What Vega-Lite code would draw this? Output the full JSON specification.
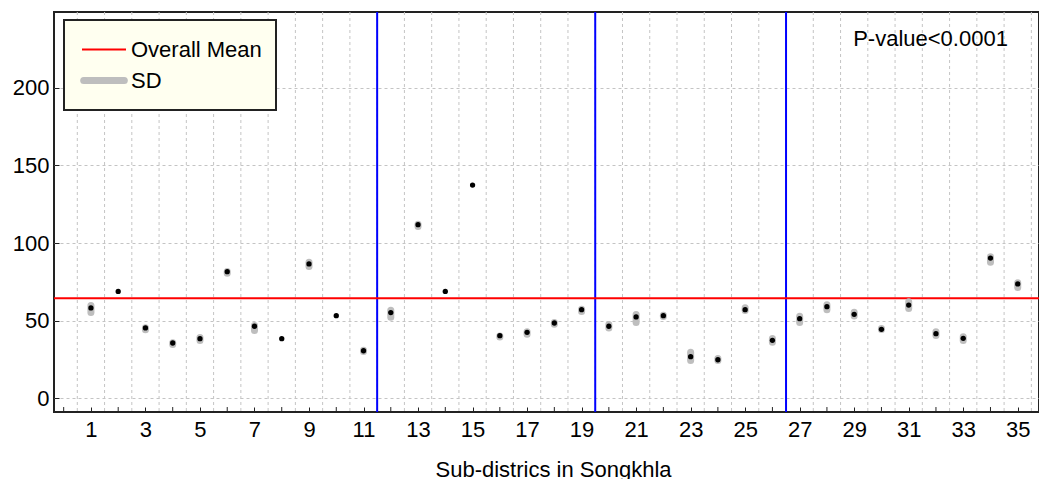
{
  "$schema": "https://vega.github.io/schema/vega-lite/v6.json",
  "width": 985,
  "height": 400,
  "autosize": {"type": "none"},
  "padding": {"left": 54, "top": 12, "right": 0, "bottom": 67},
  "background": "white",
  "title": {
    "text": "Injury Death Rates: Cases/100,000 Population",
    "anchor": "start",
    "frame": "group",
    "dx": -64,
    "offset": 6,
    "baseline": "alphabetic",
    "fontSize": 23,
    "fontWeight": "normal",
    "color": "#000"
  },
  "datasets": {
    "rates": [
      {"district": 1, "rate": 58.1, "lo": 55.2, "hi": 59.7},
      {"district": 2, "rate": 68.8, "lo": null, "hi": null},
      {"district": 3, "rate": 45.2, "lo": 44.0, "hi": 45.3},
      {"district": 4, "rate": 35.5, "lo": 34.5, "hi": 35.6},
      {"district": 5, "rate": 38.3, "lo": 37.1, "hi": 39.1},
      {"district": 6, "rate": 81.5, "lo": 80.5, "hi": 81.6},
      {"district": 7, "rate": 46.3, "lo": 43.6, "hi": 46.8},
      {"district": 8, "rate": 38.3, "lo": null, "hi": null},
      {"district": 9, "rate": 86.5, "lo": 84.8, "hi": 87.6},
      {"district": 10, "rate": 53.1, "lo": null, "hi": null},
      {"district": 11, "rate": 30.5, "lo": 30.0, "hi": 30.9},
      {"district": 12, "rate": 55.1, "lo": 52.1, "hi": 56.7},
      {"district": 13, "rate": 111.8, "lo": 110.6, "hi": 112.1},
      {"district": 14, "rate": 68.8, "lo": null, "hi": null},
      {"district": 15, "rate": 137.4, "lo": null, "hi": null},
      {"district": 16, "rate": 40.2, "lo": 39.3, "hi": 40.1},
      {"district": 17, "rate": 42.4, "lo": 41.2, "hi": 42.7},
      {"district": 18, "rate": 48.4, "lo": 47.6, "hi": 48.7},
      {"district": 19, "rate": 57.0, "lo": 55.8, "hi": 57.3},
      {"district": 20, "rate": 46.3, "lo": 45.1, "hi": 47.4},
      {"district": 21, "rate": 52.3, "lo": 48.7, "hi": 53.9},
      {"district": 22, "rate": 53.1, "lo": 52.6, "hi": 53.4},
      {"district": 23, "rate": 26.7, "lo": 24.2, "hi": 29.6},
      {"district": 24, "rate": 24.7, "lo": 24.2, "hi": 25.5},
      {"district": 25, "rate": 57.0, "lo": 56.5, "hi": 58.2},
      {"district": 26, "rate": 37.2, "lo": 36.0, "hi": 38.4},
      {"district": 27, "rate": 51.2, "lo": 48.7, "hi": 52.8},
      {"district": 28, "rate": 58.9, "lo": 56.9, "hi": 60.1},
      {"district": 29, "rate": 54.0, "lo": 53.0, "hi": 55.4},
      {"district": 30, "rate": 44.3, "lo": 44.2, "hi": 44.9},
      {"district": 31, "rate": 60.0, "lo": 57.8, "hi": 62.1},
      {"district": 32, "rate": 41.5, "lo": 40.3, "hi": 42.7},
      {"district": 33, "rate": 38.5, "lo": 37.1, "hi": 39.5},
      {"district": 34, "rate": 90.3, "lo": 87.6, "hi": 91.1},
      {"district": 35, "rate": 73.6, "lo": 71.3, "hi": 74.3}
    ],
    "grid": [
      {"pos": 0.5}, {"pos": 1.5}, {"pos": 2.5}, {"pos": 3.5}, {"pos": 4.5}, {"pos": 5.5},
      {"pos": 6.5}, {"pos": 7.5}, {"pos": 8.5}, {"pos": 9.5}, {"pos": 10.5}, {"pos": 11.5},
      {"pos": 12.5}, {"pos": 13.5}, {"pos": 14.5}, {"pos": 15.5}, {"pos": 16.5}, {"pos": 17.5},
      {"pos": 18.5}, {"pos": 19.5}, {"pos": 20.5}, {"pos": 21.5}, {"pos": 22.5}, {"pos": 23.5},
      {"pos": 24.5}, {"pos": 25.5}, {"pos": 26.5}, {"pos": 27.5}, {"pos": 28.5}, {"pos": 29.5},
      {"pos": 30.5}, {"pos": 31.5}, {"pos": 32.5}, {"pos": 33.5}, {"pos": 34.5}, {"pos": 35.5}
    ],
    "minorTicks": [
      {"tick": 0}, {"tick": 2}, {"tick": 4}, {"tick": 6}, {"tick": 8}, {"tick": 10},
      {"tick": 12}, {"tick": 14}, {"tick": 16}, {"tick": 18}, {"tick": 20}, {"tick": 22},
      {"tick": 24}, {"tick": 26}, {"tick": 28}, {"tick": 30}, {"tick": 32}, {"tick": 34}
    ],
    "boundaries": [{"boundary": 11.5}, {"boundary": 19.5}, {"boundary": 26.5}],
    "mean": [{"series": "Overall Mean", "mean": 64.3}],
    "notes": [{"note": "P-value<0.0001"}]
  },
  "layer": [
    {
      "data": {"name": "grid"},
      "mark": {"type": "rule", "color": "#c4c4c4", "strokeWidth": 1, "strokeDash": [3, 3]},
      "encoding": {
        "x": {
          "field": "pos",
          "type": "quantitative",
          "scale": {"domain": [-0.355, 35.78], "nice": false, "zero": false},
          "axis": {
            "values": [1, 3, 5, 7, 9, 11, 13, 15, 17, 19, 21, 23, 25, 27, 29, 31, 33, 35],
            "labelOverlap": false,
            "grid": false,
            "domain": false,
            "tickSize": -5,
            "tickColor": "#222",
            "tickWidth": 1,
            "labelFontSize": 22,
            "labelColor": "#000",
            "labelPadding": 12,
            "title": "Sub-districs in Songkhla",
            "titleFontSize": 22,
            "titleFontWeight": "normal",
            "titleColor": "#000",
            "titleX": 499,
            "titleY": 64,
            "titleBaseline": "alphabetic",
            "titleAlign": "center"
          }
        }
      }
    },
    {
      "data": {"name": "minorTicks"},
      "mark": {"type": "rule", "color": "#222", "strokeWidth": 1},
      "encoding": {
        "x": {"field": "tick", "type": "quantitative"},
        "y": {"datum": -9, "type": "quantitative"},
        "y2": {"datum": -5.8}
      }
    },
    {
      "data": {"name": "boundaries"},
      "mark": {"type": "rule", "color": "#0000ff", "strokeWidth": 2},
      "encoding": {"x": {"field": "boundary", "type": "quantitative"}}
    },
    {
      "data": {"name": "mean"},
      "mark": {"type": "rule", "strokeWidth": 2},
      "encoding": {
        "y": {
          "field": "mean",
          "type": "quantitative",
          "scale": {"domain": [-9, 249], "nice": false, "zero": false},
          "axis": {
            "values": [0, 50, 100, 150, 200],
            "grid": true,
            "gridDash": [3, 3],
            "gridColor": "#c4c4c4",
            "gridWidth": 1,
            "domain": false,
            "tickSize": -5,
            "tickColor": "#222",
            "tickWidth": 1,
            "labelFontSize": 22,
            "labelColor": "#000",
            "labelPadding": 10,
            "title": null
          }
        },
        "color": {
          "field": "series",
          "type": "nominal",
          "scale": {"domain": ["Overall Mean", "SD"], "range": ["#ff0000", "#bebebe"]},
          "legend": {
            "title": null,
            "orient": "none",
            "legendX": 10,
            "legendY": 8,
            "symbolType": "stroke",
            "symbolSize": 1936,
            "symbolOffset": 3,
            "clipHeight": 31,
            "rowPadding": -2,
            "padding": 14,
            "labelOffset": 4,
            "labelFontSize": 22,
            "labelColor": "#000",
            "fillColor": "#FFFFF0",
            "strokeColor": "#222",
            "encode": {
              "legend": {"update": {"strokeWidth": {"value": 2}}},
              "symbols": {
                "update": {
                  "strokeWidth": {"signal": "(datum.value === 'SD' ? 7 : 2)"},
                  "strokeCap": {"signal": "(datum.value === 'SD' ? 'round' : 'butt')"},
                  "size": {"signal": "(datum.value === 'SD' ? 1650 : 1936)"},
                  "opacity": {"value": 1}
                }
              }
            }
          }
        }
      }
    },
    {
      "data": {"name": "rates"},
      "transform": [{"filter": "datum.lo != null"}],
      "mark": {"type": "rule", "strokeWidth": 7, "strokeCap": "round"},
      "encoding": {
        "x": {"field": "district", "type": "quantitative"},
        "y": {"field": "lo", "type": "quantitative"},
        "y2": {"field": "hi"},
        "color": {"datum": "SD"}
      }
    },
    {
      "data": {"name": "rates"},
      "mark": {"type": "point", "filled": true, "shape": "circle", "size": 28, "color": "#000", "opacity": 1},
      "encoding": {
        "x": {"field": "district", "type": "quantitative"},
        "y": {"field": "rate", "type": "quantitative"}
      }
    },
    {
      "data": {"name": "notes"},
      "mark": {"type": "text", "fontSize": 22, "color": "#000", "align": "center", "baseline": "alphabetic"},
      "encoding": {
        "x": {"datum": 31.8, "type": "quantitative"},
        "y": {"datum": 227.1, "type": "quantitative"},
        "text": {"field": "note"}
      }
    }
  ],
  "config": {
    "font": "Liberation Sans",
    "view": {"stroke": "#222", "strokeWidth": 2}
  }
}
